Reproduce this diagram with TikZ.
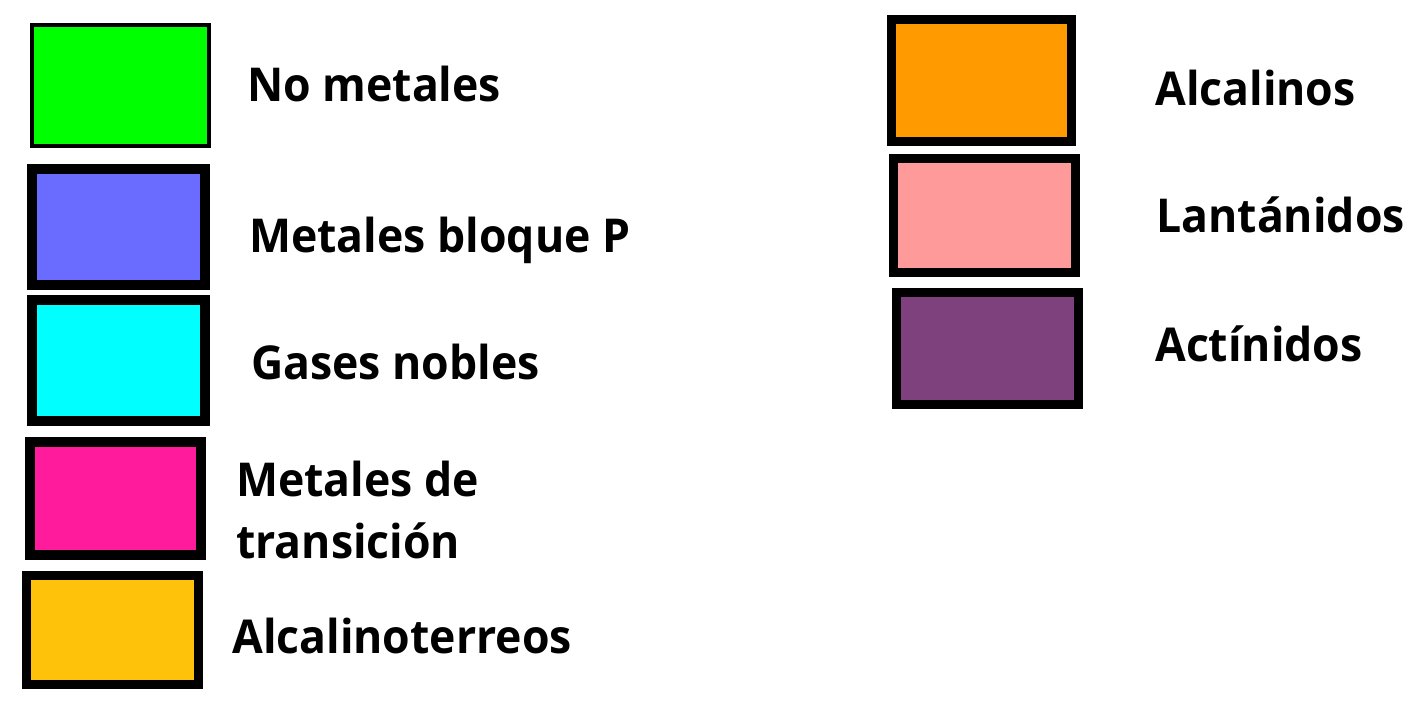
\documentclass[tikz,border=0pt]{standalone}
\usepackage{fontspec}
\setmainfont[FakeStretch=0.955]{Open Sans}
\usepackage{tikz}
\usetikzlibrary{positioning}
\definecolor{nometal}{HTML}{00FF00}
\definecolor{bloquep}{HTML}{6A6CFF}
\definecolor{gasnoble}{HTML}{00FFFF}
\definecolor{transic}{HTML}{FF1B9B}
\definecolor{alcter}{HTML}{FFC20A}
\definecolor{alcal}{HTML}{FF9A00}
\definecolor{lantan}{HTML}{FF9A9A}
\definecolor{actin}{HTML}{7F417D}
\tikzset{
  swatch/.style={rectangle, draw=black, fill=#1, line width=7.5pt, inner sep=0pt, outer sep=0pt},
  etiq/.style={anchor=base west, inner sep=0pt, font=\fontsize{35}{46.5}\selectfont\bfseries, align=left},
}
\begin{document}
\begin{tikzpicture}[x=0.75pt, y=-0.75pt]
  \useasboundingbox (0,0) rectangle (1423,716);
  % columna izquierda
  \node[swatch=nometal, line width=3pt, minimum width=132.75pt, minimum height=90.75pt] (cnm) at (120.5,85.5) {};
  \node[swatch=bloquep, minimum width=129.75pt, minimum height=87pt] (cbp) at (118.5,227) {};
  \node[swatch=gasnoble, minimum width=129.75pt, minimum height=90.75pt] (cgn) at (118.5,360.5) {};
  \node[swatch=transic, minimum width=128.25pt, minimum height=84.75pt] (cmt) at (115.5,498.5) {};
  \node[swatch=alcter, line width=6.75pt, minimum width=129pt, minimum height=81.75pt] (cat) at (112.5,630) {};
  \node[etiq] (nm) at (247,102) {No metales};
  \node[etiq] (bp) at (249,253) {Metales bloque P};
  \node[etiq] (gn) at (251,379) {Gases nobles};
  \node[etiq] (mt) at (236,558) {Metales de\\transición};
  \node[etiq] (at) at (232,653) {Alcalinoterreos};
  % columna derecha
  \node[swatch=alcal, line width=7pt, minimum width=134.6pt, minimum height=91.1pt] (cal) at (981.5,80.5) {};
  \node[swatch=lantan, line width=6.75pt, minimum width=136.5pt, minimum height=85.5pt] (cln) at (984.5,215.5) {};
  \node[swatch=actin, line width=6.75pt, minimum width=136.5pt, minimum height=84pt] (cac) at (987.5,348.5) {};
  \node[etiq] (al) at (1155,106) {Alcalinos};
  \node[etiq] (ln) at (1156,233) {Lantánidos};
  \node[etiq] (ac) at (1155,361) {Actínidos};
\end{tikzpicture}
\end{document}
